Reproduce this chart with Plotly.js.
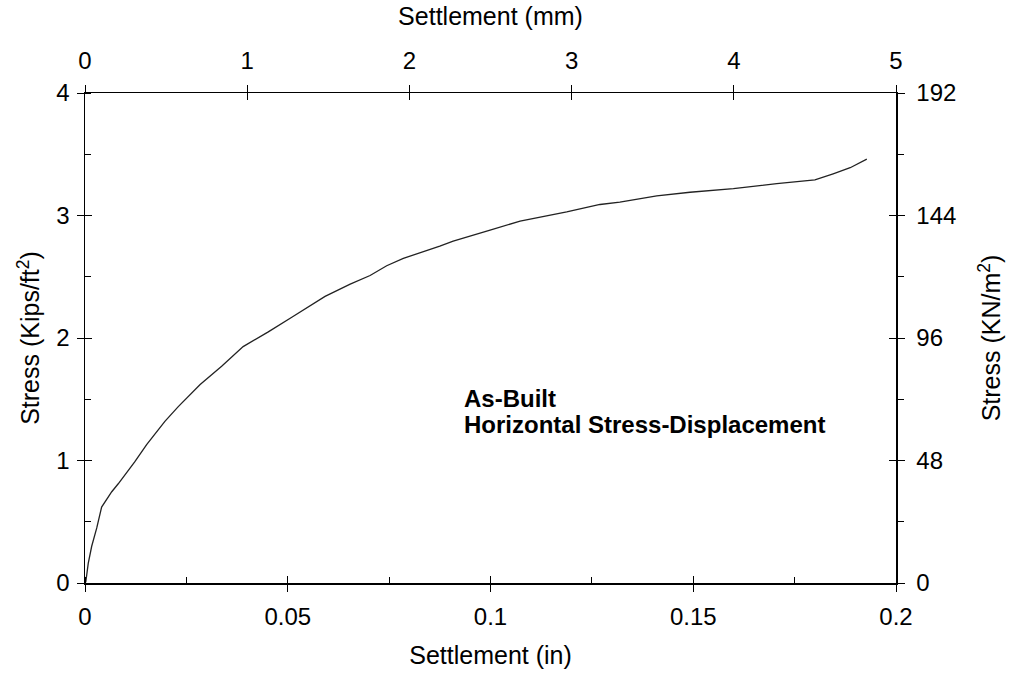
<!DOCTYPE html>
<html>
<head>
<meta charset="utf-8">
<script src="https://cdn.plot.ly/plotly-3.0.1.min.js"></script>
<style>html,body{margin:0;padding:0;background:#fff;}#chart{width:1012px;height:680px;}</style>
</head>
<body>
<div id="chart"></div>
<script>
// Data
const settlementIn = [0, 0.0002, 0.0008, 0.00165, 0.0029, 0.0041, 0.0066, 0.0082, 0.0123, 0.0152, 0.0197, 0.0230, 0.0284, 0.0337, 0.0390, 0.0452, 0.0510, 0.0592, 0.0654, 0.0703, 0.0744, 0.0785, 0.0875, 0.0908, 0.0999, 0.1073, 0.1188, 0.1270, 0.1319, 0.1410, 0.1492, 0.1599, 0.1706, 0.1800, 0.1845, 0.1887, 0.1928];
const stressKsf = [0, 0.01, 0.16, 0.30, 0.45, 0.62, 0.745, 0.81, 0.99, 1.13, 1.32, 1.44, 1.62, 1.77, 1.93, 2.05, 2.17, 2.34, 2.44, 2.51, 2.59, 2.65, 2.75, 2.79, 2.88, 2.955, 3.03, 3.09, 3.11, 3.16, 3.19, 3.22, 3.26, 3.29, 3.34, 3.39, 3.46];

const bottomTicks = [0, 0.05, 0.1, 0.15, 0.2];
const bottomTickText = ["0", "0.05", "0.1", "0.15", "0.2"];
const topTicks = [0, 1, 2, 3, 4, 5];
const leftTicks = [0, 1, 2, 3, 4];
const rightTicks = [0, 48, 96, 144, 192];

const annotationLines = ["As-Built", "Horizontal Stress-Displacement"];

const FONT = "Liberation Sans, Arial, Helvetica, sans-serif";
const tickFont = {family: FONT, size: 24, color: "#000"};
const titleFont = {family: FONT, size: 25, color: "#000"};

const traces = [
  {x: settlementIn, y: stressKsf, type: "scatter", mode: "lines",
   line: {color: "#222", width: 1.3}, xaxis: "x", yaxis: "y", hoverinfo: "skip", showlegend: false},
  {x: [], y: [], type: "scatter", mode: "lines", xaxis: "x2", yaxis: "y2", showlegend: false, hoverinfo: "skip"},
  {x: [], y: [], type: "scatter", mode: "lines", xaxis: "x3", yaxis: "y3", showlegend: false, hoverinfo: "skip"},
  {x: [], y: [], type: "scatter", mode: "lines", xaxis: "x4", yaxis: "y4", showlegend: false, hoverinfo: "skip"}
];

const common = {showgrid: false, zeroline: false, fixedrange: true, tickcolor: "#000", tickwidth: 1, linecolor: "#000", linewidth: 1.5};

const layout = {
  width: 1012, height: 680,
  paper_bgcolor: "#fff", plot_bgcolor: "#fff",
  margin: {l: 85, r: 116, t: 93, b: 97},
  showlegend: false,
  font: {family: FONT, color: "#000"},
  xaxis: Object.assign({}, common, {
    range: [0, 0.2], side: "bottom", anchor: "y",
    tickmode: "array", tickvals: bottomTicks, ticktext: bottomTickText,
    ticks: "outside", ticklen: 7, showline: true, tickfont: tickFont, ticklabelstandoff: 5,
    minor: {tickmode: "linear", tick0: 0, dtick: 0.025, ticks: "inside", ticklen: 6, tickcolor: "#000", showgrid: false},
    title: {text: "Settlement (in)", font: titleFont, standoff: 17}
  }),
  xaxis3: Object.assign({}, common, {
    range: [0, 0.2], side: "bottom", anchor: "y", overlaying: "x",
    tickmode: "array", tickvals: bottomTicks, ticks: "inside", ticklen: 7,
    showticklabels: false, showline: false
  }),
  xaxis2: Object.assign({}, common, {
    range: [0, 5], side: "top", anchor: "y", overlaying: "x",
    tickmode: "array", tickvals: topTicks,
    ticks: "outside", ticklen: 7, showline: true, tickfont: tickFont, ticklabelstandoff: 6,
    title: {text: "Settlement (mm)", font: titleFont, standoff: 14}
  }),
  xaxis4: Object.assign({}, common, {
    range: [0, 5], side: "top", anchor: "y", overlaying: "x",
    tickmode: "array", tickvals: topTicks, ticks: "inside", ticklen: 7,
    showticklabels: false, showline: false
  }),
  yaxis: Object.assign({}, common, {
    range: [0, 4], side: "left", anchor: "x",
    tickmode: "array", tickvals: leftTicks,
    ticks: "outside", ticklen: 7, showline: true, tickfont: tickFont, ticklabelstandoff: 2,
    minor: {tickmode: "linear", tick0: 0, dtick: 0.5, ticks: "inside", ticklen: 6, tickcolor: "#000", showgrid: false},
    title: {text: "Stress (Kips/ft<sup>2</sup>)", font: titleFont, standoff: 9}
  }),
  yaxis3: Object.assign({}, common, {
    range: [0, 4], side: "left", anchor: "x", overlaying: "y",
    tickmode: "array", tickvals: leftTicks, ticks: "inside", ticklen: 7,
    showticklabels: false, showline: false
  }),
  yaxis2: Object.assign({}, common, {
    range: [0, 192], side: "right", anchor: "x", overlaying: "y",
    tickmode: "array", tickvals: rightTicks,
    ticks: "outside", ticklen: 7, showline: true, tickfont: tickFont, ticklabelstandoff: 7,
    minor: {tickmode: "linear", tick0: 0, dtick: 24, ticks: "outside", ticklen: 6, tickcolor: "#000", showgrid: false},
    title: {text: "Stress (KN/m<sup>2</sup>)", font: titleFont, standoff: 27}
  }),
  yaxis4: Object.assign({}, common, {
    range: [0, 192], side: "right", anchor: "x", overlaying: "y",
    tickmode: "array", tickvals: rightTicks, ticks: "inside", ticklen: 7,
    showticklabels: false, showline: false
  }),
  annotations: [
    {text: "<b>" + annotationLines[0] + "</b>", xref: "x", yref: "y", x: 0.093, y: 1.51,
     xanchor: "left", yanchor: "middle", showarrow: false, font: {family: FONT, size: 24, color: "#000"}},
    {text: "<b>" + annotationLines[1] + "</b>", xref: "x", yref: "y", x: 0.093, y: 1.29,
     xanchor: "left", yanchor: "middle", showarrow: false, font: {family: FONT, size: 24, color: "#000"}}
  ]
};

Plotly.newPlot("chart", traces, layout, {displayModeBar: false, staticPlot: true});
</script>
</body>
</html>
